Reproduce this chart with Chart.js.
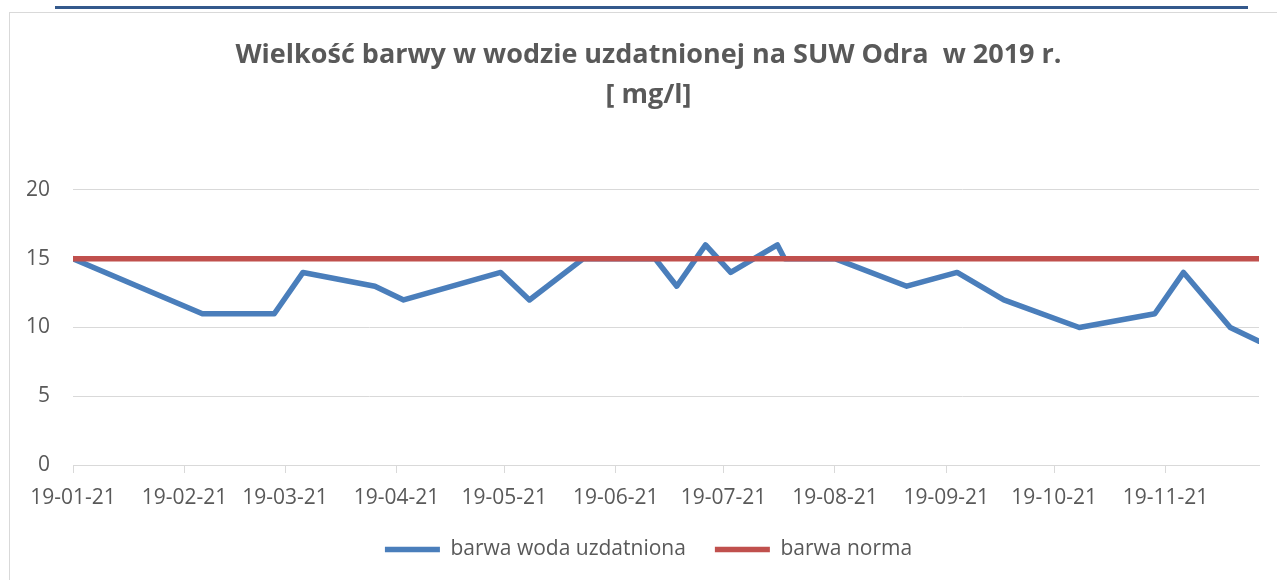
<!DOCTYPE html>
<html>
<head>
<meta charset="utf-8">
<script src="https://cdn.jsdelivr.net/npm/chart.js@4.4.1/dist/chart.umd.min.js"></script>
<style>
  html, body { margin: 0; padding: 0; background: #fff; overflow: hidden; }
  #topline { position: absolute; left: 55px; top: 6px; width: 1193px; height: 3px; background: #34598c; }
  #box { position: absolute; left: 9px; top: 12px; width: 1300px; height: 600px;
         border-left: 1px solid #d9d9d9; border-top: 1px solid #d9d9d9; }
  #wrap { position: absolute; left: 10px; top: 13px; width: 1277px; height: 557px; }
</style>
</head>
<body>
<div id="topline"></div>
<div id="box"></div>
<div id="wrap"><canvas id="barwaChart"></canvas></div>
<script>
  // dates of measurements (2019) and values in mg/l
  var measureDates = ['2019-01-21', '2019-02-26', '2019-03-18', '2019-03-26', '2019-04-15', '2019-04-23',
                      '2019-05-20', '2019-05-28', '2019-06-12', '2019-07-02', '2019-07-08', '2019-07-16',
                      '2019-07-23', '2019-08-05', '2019-08-07', '2019-08-21', '2019-09-10', '2019-09-24',
                      '2019-10-07', '2019-10-28', '2019-11-18', '2019-11-26', '2019-12-09', '2019-12-17'];
  var barwaWoda = [15, 11, 11, 14, 13, 12, 14, 12, 15, 15, 13, 16, 14, 16, 15, 15, 13, 14, 12, 10, 11, 14, 10, 9];
  var barwaNorma = [15, 15, 15, 15, 15, 15, 15, 15, 15, 15, 15, 15, 15, 15, 15, 15, 15, 15, 15, 15, 15, 15, 15, 15];
  var tickLabels = ['19-01-21', '19-02-21', '19-03-21', '19-04-21', '19-05-21', '19-06-21',
                    '19-07-21', '19-08-21', '19-09-21', '19-10-21', '19-11-21'];

  var textColor = '#595959';
  var gridColor = '#d9d9d9';

  function dayOf(iso) {
    var p = iso.split('-');
    var base = measureDates[0].split('-');
    return (Date.UTC(+p[0], p[1] - 1, +p[2]) - Date.UTC(+base[0], base[1] - 1, +base[2])) / 86400000;
  }

  var tickDays = tickLabels.map(function (l) { return dayOf('20' + l); });

  function toPoints(values) {
    return values.map(function (v, i) { return { x: dayOf(measureDates[i]), y: v }; });
  }

  var ctx = document.getElementById('barwaChart').getContext('2d');

  var barwaChart = new Chart(ctx, {
    type: 'line',
    data: {
      datasets: [{
        label: 'barwa woda uzdatniona',
        data: toPoints(barwaWoda),
        borderColor: '#4a7ebb',
        backgroundColor: '#4a7ebb',
        borderWidth: 5.5,
        borderJoinStyle: 'round',
        borderCapStyle: 'round',
        pointRadius: 0,
        order: 2
      }, {
        label: 'barwa norma',
        data: toPoints(barwaNorma),
        borderColor: '#c0504d',
        backgroundColor: '#c0504d',
        borderWidth: 5.5,
        borderJoinStyle: 'round',
        borderCapStyle: 'round',
        pointRadius: 0,
        order: 1
      }]
    },
    options: {
      responsive: true,
      maintainAspectRatio: false,
      animation: false,
      layout: { padding: 0 },
      plugins: {
        title: {
          display: true,
          text: ['Wielkość barwy w wodzie uzdatnionej na SUW Odra  w 2019 r.', '[ mg/l]'],
          color: textColor,
          font: { family: 'Open Sans', size: 27, weight: 'bold', lineHeight: 1.48 },
          padding: { top: 22, bottom: 75 }
        },
        legend: {
          position: 'bottom',
          labels: {
            usePointStyle: true,
            pointStyle: 'line',
            pointStyleWidth: 55,
            padding: 29,
            color: textColor,
            font: { family: 'Open Sans', size: 21 },
            sort: function (a, b) { return a.datasetIndex - b.datasetIndex; }
          }
        },
        tooltip: { enabled: false }
      },
      scales: {
        x: {
          type: 'linear',
          min: dayOf(measureDates[0]),
          max: dayOf(measureDates[measureDates.length - 1]),
          afterBuildTicks: function (scale) {
            scale.ticks = tickDays.map(function (d) { return { value: d }; });
          },
          afterFit: function (scale) { scale.height = 45; },
          ticks: {
            autoSkip: false,
            maxRotation: 0,
            padding: 15,
            color: textColor,
            font: { family: 'Open Sans', size: 21, lineHeight: 1 },
            callback: function (value, index) { return tickLabels[index]; }
          },
          grid: { drawOnChartArea: false, drawTicks: true, tickLength: 8, color: gridColor },
          border: { color: gridColor }
        },
        y: {
          min: 0,
          max: 20,
          afterFit: function (scale) { scale.width = 63; },
          ticks: {
            stepSize: 5,
            padding: 23,
            color: textColor,
            font: { family: 'Open Sans', size: 21 }
          },
          grid: { color: gridColor, drawTicks: false },
          border: { display: false }
        },
        // empty spacer on the right, keeps title and legend centred like the original
        yRight: {
          position: 'right',
          afterFit: function (scale) { scale.width = 28; },
          ticks: { display: false },
          grid: { display: false },
          border: { display: false }
        }
      }
    }
  });
</script>
</body>
</html>
